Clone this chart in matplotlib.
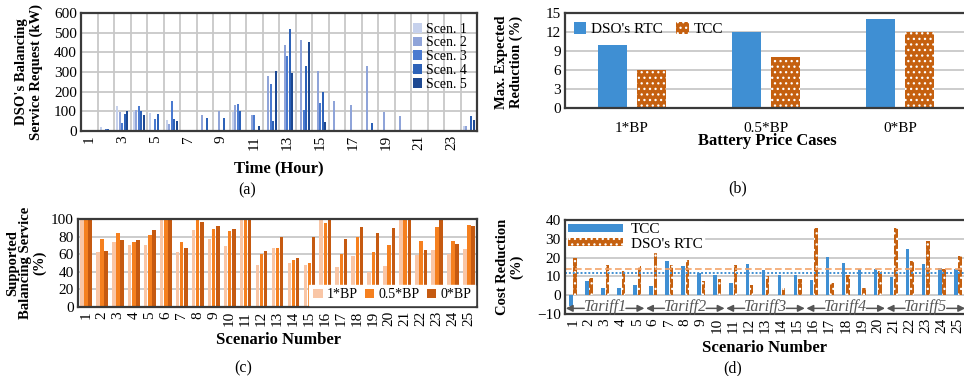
import matplotlib.pyplot as plt
import numpy as np

plt.rcParams['font.family'] = ['Liberation Serif', 'DejaVu Serif']
plt.rcParams['hatch.linewidth'] = 0.9

# ---- (a) DSO's balancing service request per hour (kW)
hours = list(range(1, 25))
scen1 = [0, 20, 125, 100, 90, 55, 0, 0, 0, 95, 0, 0, 0, 0, 0, 0, 0, 0, 0, 0, 0, 0, 0, 25]
scen2 = [0, 0, 95, 105, 0, 35, 0, 80, 100, 130, 80, 280, 435, 465, 305, 155, 132, 328, 98, 78, 0, 0, 0, 25]
scen3 = [0, 8, 40, 125, 60, 155, 0, 0, 0, 135, 80, 240, 380, 105, 140, 0, 0, 0, 0, 0, 0, 0, 0, 0]
scen4 = [0, 12, 85, 100, 85, 60, 0, 65, 68, 100, 0, 50, 520, 330, 200, 0, 0, 42, 0, 0, 0, 0, 0, 75]
scen5 = [0, 0, 100, 80, 0, 50, 0, 0, 0, 0, 25, 305, 295, 455, 47, 0, 0, 0, 0, 0, 0, 0, 0, 55]
scen_names = ["Scen. 1", "Scen. 2", "Scen. 3", "Scen. 4", "Scen. 5"]
scen_colors = ["#c6d1ec", "#8fa4d9", "#4a7ad0", "#2d62b8", "#1d4891"]

# ---- (b) max expected reduction (%)
cases = ["1*BP", "0.5*BP", "0*BP"]
rtc_max = [10, 12, 14]
tcc_max = [6, 8, 12]

# ---- (c) supported balancing service (%)
scenarios = list(range(1, 26))
bp_1 = [100, 62, 74, 70, 70, 100, 62, 87, 77, 69, 100, 48, 67.5, 50, 48, 100, 45, 58, 40, 47, 100, 59, 65, 60, 66]
bp_05 = [100, 77, 84, 74, 82, 100, 74, 100, 89, 86, 100, 60, 67, 53, 50, 96, 60, 79, 62, 71, 100, 75, 91, 75, 93]
bp_0 = [100, 64, 76, 76, 88, 100, 67.5, 97, 92, 89, 100, 64, 80, 56, 80, 100, 77, 91, 84, 90, 100, 65, 100, 72, 92]

# ---- (d) cost reduction (%)
tcc_cost = [-6, 7.4, 4, 3.9, 5.4, 4.7, 18.4, 15.3, 11.8, 10.7, 6.3, 16.5, 13.2, 10.5, 10.5,
            8.2, 20.2, 17, 14, 14, 9.6, 24.6, 16.7, 14.6, 14]
rtc_cost = [20, 9.3, 16, 12.8, 15.6, 27, 15.8, 18.8, 7.5, 8.8, 16.3, 5.6, 10, 4, 8.6,
            35.6, 6.5, 10.5, 3.9, 12.8, 36, 18.4, 29, 14, 21]
rtc_avg = 14
tcc_avg = 12
tariffs = ["Tariff1", "Tariff2", "Tariff3", "Tariff4", "Tariff5"]

BLUE = "#3f8fd3"
BROWN = "#c5600f"
GRID = "#c8c8c8"
c_colors = ["#f9c6a6", "#f5801f", "#c55a11"]

W, H = 964, 376
fig = plt.figure(figsize=(W / 100, H / 100), dpi=100)


def box(l, t, r, b):
    return [l / W, 1 - b / H, (r - l) / W, (b - t) / H]


def ftext(x, y, s, **kw):
    fig.text(x / W, 1 - y / H, s, ha="center", va="center", **kw)


def style(ax):
    for sp in ax.spines.values():
        sp.set_color("#3a3a3a")
        sp.set_linewidth(1.6)
    ax.tick_params(length=0, labelsize=11, pad=3)
    ax.set_axisbelow(True)


# (a)
ax = fig.add_axes(box(81, 13, 477, 131))
x = np.arange(len(hours))
# vertical grid at category boundaries
ax.set_xticks(np.arange(-0.5, len(hours), 1), minor=True)
ax.grid(True, which="minor", axis="x", color=GRID, lw=1.3)
ax.grid(True, which="major", axis="y", color=GRID, lw=1.3)
for i, (vals, name, col) in enumerate(zip([scen1, scen2, scen3, scen4, scen5], scen_names, scen_colors)):
    ax.bar(x + (i - 2) * 0.15, vals, 0.1, color=col, label=name, zorder=2)
ax.set_xlim(-0.5, len(hours) - 0.5)
ax.set_ylim(0, 600)
ax.set_yticks(range(0, 601, 100))
ax.set_xticks(x[::2])
ax.set_xticklabels([str(h) for h in hours[::2]], rotation=90)
style(ax)
ax.tick_params(which="minor", length=0)
ax.legend(loc="upper right", frameon=False, fontsize=10, handlelength=0.7, handleheight=0.7,
          handletextpad=0.3, labelspacing=0.05, borderaxespad=0.3)
ftext(29, 72, "DSO's Balancing\nService Request (kW)", rotation=90, fontsize=10.5, fontweight="bold",
      linespacing=1.1)
ftext(279, 168, "Time (Hour)", fontsize=12, fontweight="bold")
ftext(247, 190, "(a)", fontsize=11.5)

# (b)
ax = fig.add_axes(box(565, 13, 967, 108))
x = np.arange(len(cases))
ax.bar(x - 0.145, rtc_max, 0.217, color=BLUE, label="DSO's RTC")
ax.bar(x + 0.145, tcc_max, 0.217, color=BROWN, edgecolor="white", hatch="...", lw=0, label="TCC")
ax.set_xlim(-0.5, 2.5)
ax.set_ylim(0, 15)
ax.set_yticks(range(0, 16, 3))
ax.set_xticks(x)
ax.set_xticklabels(cases)
ax.grid(axis="y", color=GRID, lw=1.3)
style(ax)
ax.tick_params(axis="x", pad=10)
ax.legend(loc="upper left", ncol=2, frameon=False, fontsize=11, handlelength=0.8, handleheight=0.8,
          handletextpad=0.3, columnspacing=0.9, borderaxespad=0.2)
ftext(509, 62, "Max. Expected\nReduction (%)", rotation=90, fontsize=10.5, fontweight="bold", linespacing=1.1)
ftext(767, 141, "Battery Price Cases", fontsize=12, fontweight="bold")
ftext(738, 188, "(b)", fontsize=11.5)

# (c)
ax = fig.add_axes(box(78, 219, 477, 307))
x = np.arange(len(scenarios))
labels_c = ["1*BP", "0.5*BP", "0*BP"]
for i, (vals, col, lab) in enumerate(zip([bp_1, bp_05, bp_0], c_colors, labels_c)):
    ax.bar(x + (i - 1) * 0.26, vals, 0.22, color=col, label=lab)
ax.set_xlim(-0.5, len(scenarios) - 0.5)
ax.set_ylim(0, 100)
ax.set_yticks(range(0, 101, 20))
ax.set_xticks(x)
ax.set_xticklabels([str(s) for s in scenarios], rotation=90)
ax.grid(axis="y", color=GRID, lw=1.3)
style(ax)
leg = ax.legend(loc="lower right", ncol=3, frameon=True, fancybox=False, fontsize=10, handlelength=0.7,
                handleheight=0.7, handletextpad=0.3, columnspacing=0.5, borderaxespad=0.15,
                borderpad=0.25)
leg.get_frame().set_edgecolor("white")
leg.get_frame().set_alpha(1)
ftext(26, 263, "Supported\nBalancing Service\n(%)", rotation=90, fontsize=10.5, fontweight="bold",
      linespacing=1.05)
ftext(278, 340, "Scenario Number", fontsize=12, fontweight="bold")
ftext(243, 368, "(c)", fontsize=11.5)

# (d)
ax = fig.add_axes(box(565, 220, 966, 314))
ax.bar(x - 0.135, tcc_cost, 0.22, color=BLUE, label="TCC")
ax.bar(x + 0.135, rtc_cost, 0.22, color=BROWN, edgecolor="white", hatch="...", lw=0, label="DSO's RTC")
ax.axhline(rtc_avg, color="#f4a46a", ls=(0, (4, 2)), lw=1.2)
ax.axhline(tcc_avg, color=BLUE, ls=(0, (1, 1)), lw=1.4)
ax.set_xlim(-0.5, len(scenarios) - 0.5)
ax.set_ylim(-10, 40)
ax.set_yticks(range(-10, 41, 10))
ax.set_xticks(x)
ax.set_xticklabels([str(s) for s in scenarios], rotation=90)
ax.grid(axis="y", color=GRID, lw=1.3)
style(ax)
for k, name in enumerate(tariffs):
    lo, hi = 5 * k - 0.45, 5 * k + 4.45
    mid = 5 * k + 2
    ax.annotate("", xy=(lo, -7), xytext=(mid - 1.3, -7),
                arrowprops=dict(arrowstyle="-|>", color="#555555", lw=1.1, mutation_scale=10,
                                shrinkA=0, shrinkB=0))
    ax.annotate("", xy=(hi, -7), xytext=(mid + 1.3, -7),
                arrowprops=dict(arrowstyle="-|>", color="#555555", lw=1.1, mutation_scale=10,
                                shrinkA=0, shrinkB=0))
    ax.text(mid, -6.5, name, ha="center", va="center", fontsize=11.5, style="italic", color="#555555")
leg = ax.legend(loc="upper left", frameon=True, fancybox=False, fontsize=11, handlelength=3.6,
                handleheight=0.45, handletextpad=0.5, labelspacing=0.1, borderaxespad=0.1,
                borderpad=0.1)
leg.get_frame().set_edgecolor("white")
leg.get_frame().set_alpha(1)
ftext(510, 267, "Cost Reduction\n(%)", rotation=90, fontsize=10.5, fontweight="bold", linespacing=1.1)
ftext(765, 348, "Scenario Number", fontsize=12, fontweight="bold")
ftext(733, 368, "(d)", fontsize=11.5)

fig.savefig("out.png", dpi=100, facecolor="white")
